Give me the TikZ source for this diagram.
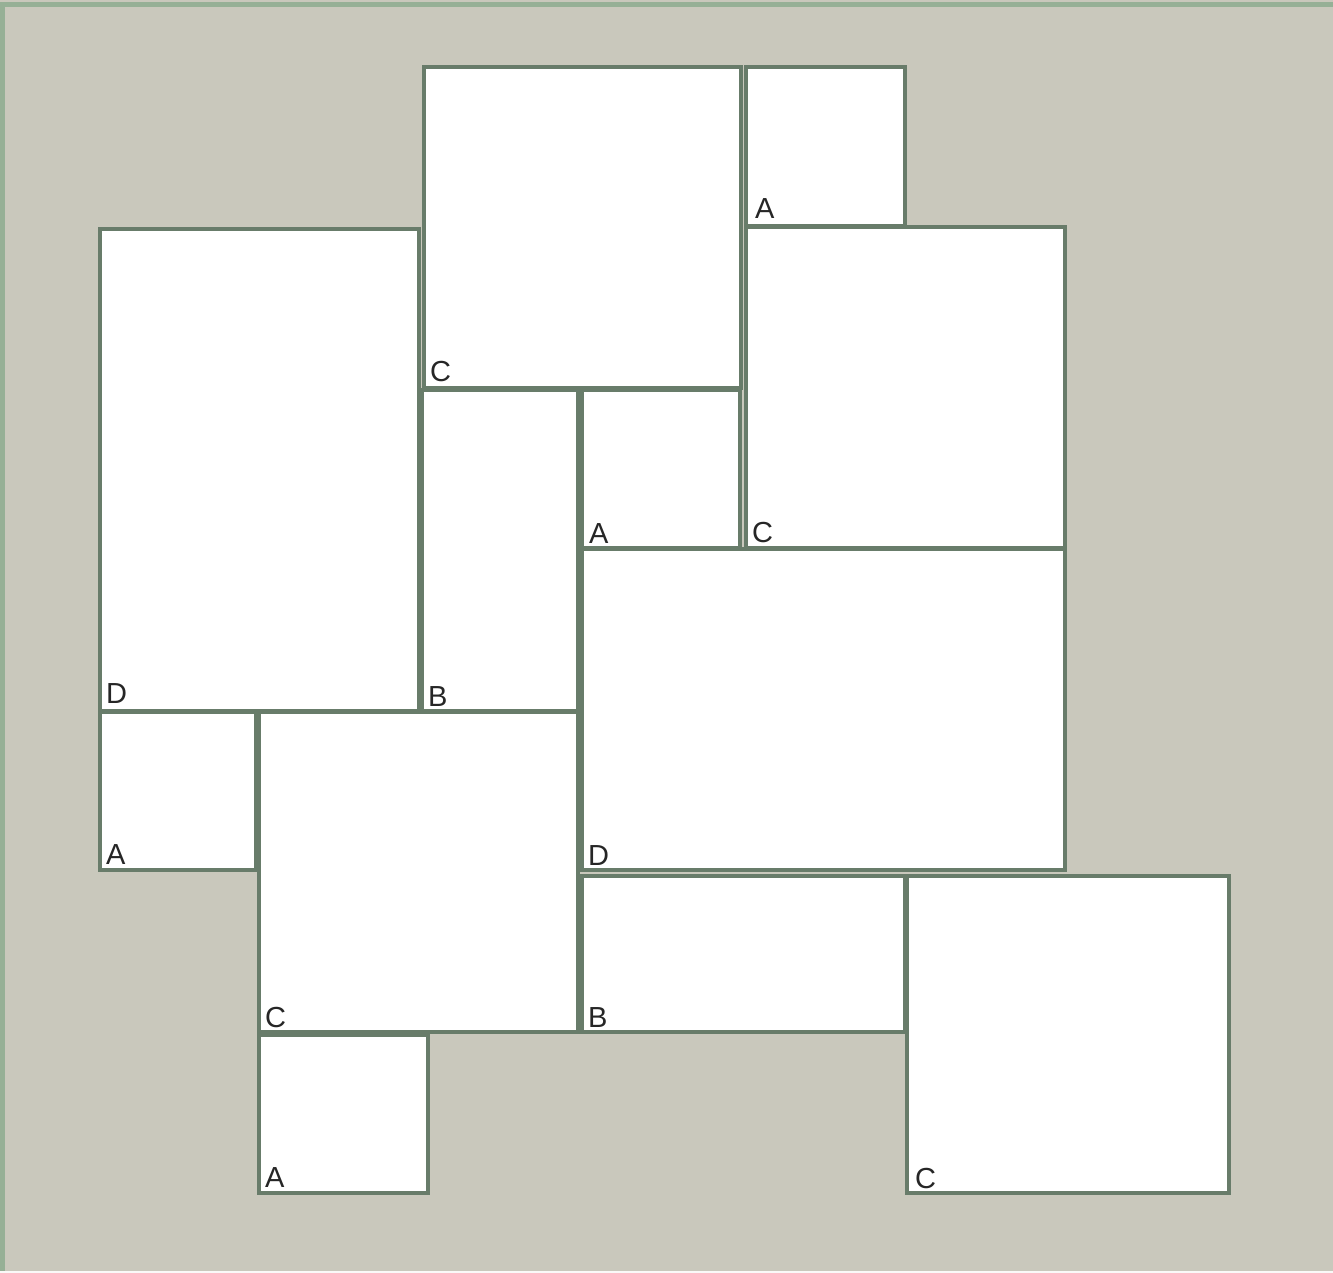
\documentclass[tikz,border=0pt]{standalone}
\usepackage{fontspec}
\setmainfont{Liberation Sans}
\definecolor{bg}{RGB}{201,200,188}
\definecolor{edge}{RGB}{104,124,106}
\definecolor{framec}{RGB}{150,176,150}
\begin{document}
\begin{tikzpicture}[x=1pt,y=-1pt,
  tile/.style={fill=white,draw=edge,line width=3.5pt,anchor=north west,inner sep=0pt,outer sep=0pt},
  lab/.style={anchor=base west,inner sep=0pt,font=\fontsize{29}{29}\selectfont,text=black!85}]
\fill[bg] (0,0) rectangle (1333,1273);
\useasboundingbox (0,0) rectangle (1333,1273);
\draw[framec,line width=5pt] (2.5,1273) -- (2.5,5) -- (1333,5);
\draw[white!90!bg,line width=2pt] (0,1272) -- (1333,1272);
% tiles
\node[tile,minimum width=317pt,minimum height=321pt] (t1) at (424,67) {};
\node[tile,minimum width=159pt,minimum height=159pt] (t2) at (746,67) {};
\node[tile,minimum width=319pt,minimum height=482pt] (t3) at (100,229) {};
\node[tile,minimum width=156pt,minimum height=321pt] (t4) at (422,390) {};
\node[tile,minimum width=158pt,minimum height=158pt] (t5) at (582,390) {};
\node[tile,minimum width=319pt,minimum height=321pt] (t6) at (746,227) {};
\node[tile,minimum width=483pt,minimum height=321pt] (t7) at (582,549) {};
\node[tile,minimum width=156pt,minimum height=158pt] (t8) at (100,712) {};
\node[tile,minimum width=319pt,minimum height=320pt] (t9) at (259,712) {};
\node[tile,minimum width=323pt,minimum height=156pt] (t10) at (582,876) {};
\node[tile,minimum width=322pt,minimum height=317pt] (t11) at (907,876) {};
\node[tile,minimum width=169pt,minimum height=158pt] (t12) at (259,1035) {};
% labels
\node[lab] (l1) at ([xshift=6pt,yshift=7pt]t1.south west) {C};
\node[lab] (l2) at ([xshift=9pt,yshift=7pt]t2.south west) {A};
\node[lab] (l3) at ([xshift=6pt,yshift=8pt]t3.south west) {D};
\node[lab] (l4) at ([xshift=6pt,yshift=5pt]t4.south west) {B};
\node[lab] (l5) at ([xshift=7pt,yshift=5pt]t5.south west) {A};
\node[lab] (l6) at ([xshift=6pt,yshift=6pt]t6.south west) {C};
\node[lab] (l7) at ([xshift=6pt,yshift=5pt]t7.south west) {D};
\node[lab] (l8) at ([xshift=6pt,yshift=6pt]t8.south west) {A};
\node[lab] (l9) at ([xshift=6pt,yshift=5pt]t9.south west) {C};
\node[lab] (l10) at ([xshift=6pt,yshift=5pt]t10.south west) {B};
\node[lab] (l11) at ([xshift=8pt,yshift=5pt]t11.south west) {C};
\node[lab] (l12) at ([xshift=6pt,yshift=6pt]t12.south west) {A};
\end{tikzpicture}
\end{document}
